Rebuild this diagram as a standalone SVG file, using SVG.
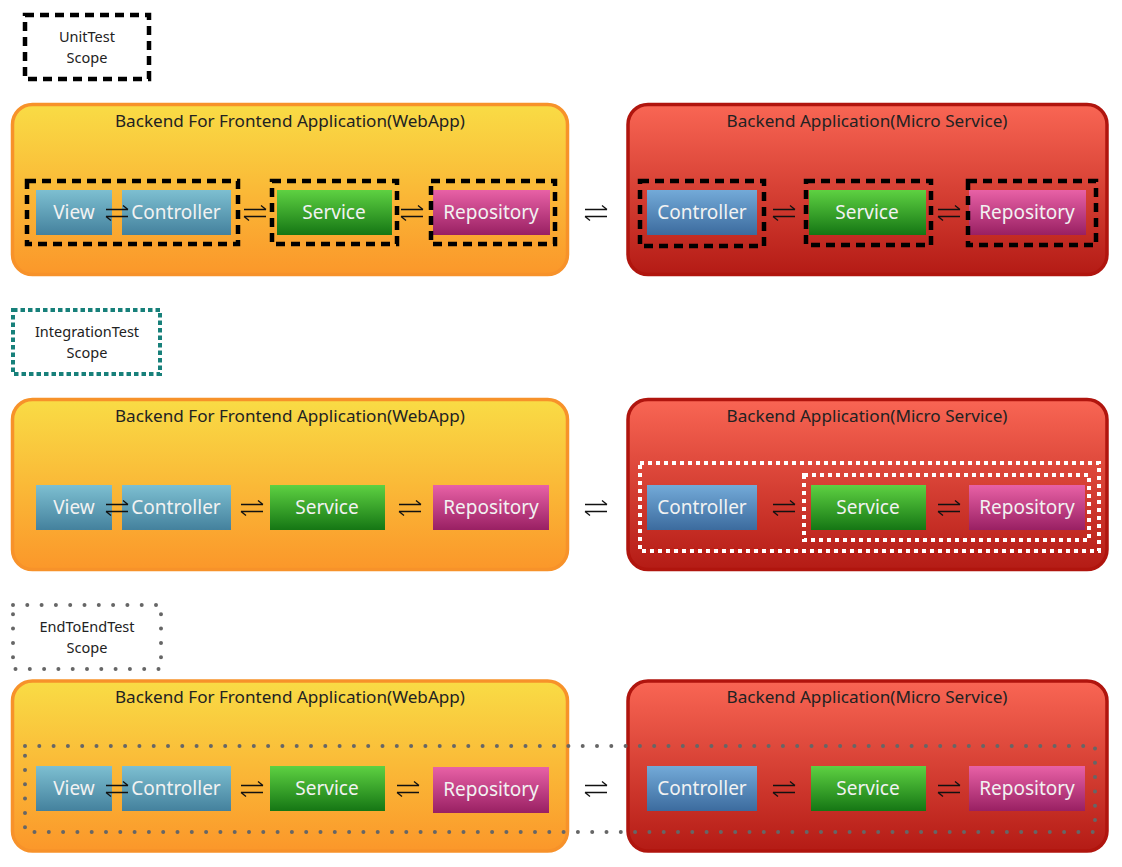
<svg xmlns="http://www.w3.org/2000/svg" width="1122" height="867" viewBox="0 0 1122 867">
<defs>
<linearGradient id="gOr" x1="0" y1="0" x2="0" y2="1"><stop offset="0" stop-color="#F9DC45"/><stop offset="1" stop-color="#FB972A"/></linearGradient>
<linearGradient id="gRd" x1="0" y1="0" x2="0" y2="1"><stop offset="0" stop-color="#F96654"/><stop offset="1" stop-color="#B41B15"/></linearGradient>
<linearGradient id="gBv" x1="0" y1="0" x2="0" y2="1"><stop offset="0" stop-color="#7DBFD1"/><stop offset="1" stop-color="#44819D"/></linearGradient>
<linearGradient id="gBc" x1="0" y1="0" x2="0" y2="1"><stop offset="0" stop-color="#73AAD8"/><stop offset="1" stop-color="#3C6B9E"/></linearGradient>
<linearGradient id="gGr" x1="0" y1="0" x2="0" y2="1"><stop offset="0" stop-color="#5ED142"/><stop offset="1" stop-color="#157614"/></linearGradient>
<linearGradient id="gPk" x1="0" y1="0" x2="0" y2="1"><stop offset="0" stop-color="#E861A6"/><stop offset="1" stop-color="#992063"/></linearGradient>
<path id="arr" d="M-11,-3.5 H11 M6,-7.5 L11,-3.5 M-11,3.5 H11 M-11,3.5 L-6,7.5" fill="none" stroke="#111" stroke-width="1.3"/>
</defs>
<style>
.bff{fill:url(#gOr);stroke:#F7922A;stroke-width:3.5}
.ms{fill:url(#gRd);stroke:#B0150E;stroke-width:3.5}
.title{font-family:"Noto Sans","Liberation Sans",sans-serif;font-size:16px;fill:#222;text-anchor:middle}
.lbl{font-family:"Noto Sans","Liberation Sans",sans-serif;font-size:19px;fill:#F2F2F2;text-anchor:middle}
.scope{font-family:"Noto Sans","Liberation Sans",sans-serif;font-size:14.5px;fill:#222;text-anchor:middle}
.bv{fill:url(#gBv)}
.bc{fill:url(#gBc)}
.gr{fill:url(#gGr)}
.pk{fill:url(#gPk)}
.unit{fill:none;stroke:#000;stroke-width:4.5;stroke-dasharray:9 6}
.integ{fill:none;stroke:#17807A;stroke-width:4;stroke-dasharray:4.5 3}
.wdot{fill:none;stroke:#fff;stroke-width:4;stroke-dasharray:4 4}
.e2e{fill:none;stroke:#666;stroke-width:4;stroke-dasharray:0 14.3;stroke-linecap:round}
</style>

<!-- Legends -->
<g id="legend-unit"><rect class="unit" x="25" y="15" width="124" height="64"/><text class="scope" x="87" y="42">UnitTest</text><text class="scope" x="87" y="63">Scope</text></g>
<g id="legend-integration"><rect class="integ" x="13" y="310" width="147" height="64"/><text class="scope" x="87" y="337">IntegrationTest</text><text class="scope" x="87" y="358">Scope</text></g>
<g id="legend-e2e"><rect class="e2e" x="13" y="605" width="148" height="64"/><text class="scope" x="87" y="632">EndToEndTest</text><text class="scope" x="87" y="653">Scope</text></g>

<!-- Section 1 -->
<g id="bff1"><rect class="bff" x="12.5" y="104.5" width="555" height="170" rx="20"/><text class="title" x="290" y="127" textLength="350" lengthAdjust="spacingAndGlyphs">Backend For Frontend Application(WebApp)</text></g>
<g id="ms1"><rect class="ms" x="628" y="104.5" width="479" height="170" rx="20"/><text class="title" x="867" y="127" textLength="281" lengthAdjust="spacingAndGlyphs">Backend Application(Micro Service)</text></g>
<g id="bff1-view"><rect class="bv" x="36" y="190" width="76" height="45"/><text class="lbl" x="74" y="219">View</text></g>
<g id="bff1-controller"><rect class="bv" x="122" y="190" width="109" height="45"/><text class="lbl" x="176" y="219">Controller</text></g>
<g id="bff1-service"><rect class="gr" x="277" y="190" width="115" height="45"/><text class="lbl" x="334" y="219">Service</text></g>
<g id="bff1-repository"><rect class="pk" x="433" y="190" width="117" height="45"/><text class="lbl" x="491" y="219">Repository</text></g>
<g id="ms1-controller"><rect class="bc" x="647" y="190" width="110" height="45"/><text class="lbl" x="702" y="219">Controller</text></g>
<g id="ms1-service"><rect class="gr" x="809" y="190" width="117" height="45"/><text class="lbl" x="867" y="219">Service</text></g>
<g id="ms1-repository"><rect class="pk" x="969" y="190" width="117" height="45"/><text class="lbl" x="1027" y="219">Repository</text></g>
<g id="unit-scopes">
<rect class="unit" x="27" y="181" width="211" height="63"/>
<rect class="unit" x="272" y="181" width="125" height="63"/>
<rect class="unit" x="431" y="181" width="124" height="63"/>
<rect class="unit" x="640" y="181" width="124" height="65"/>
<rect class="unit" x="806" y="181" width="125" height="64"/>
<rect class="unit" x="968" y="181" width="128" height="64"/>
</g>

<!-- Section 2 -->
<g id="bff2"><rect class="bff" x="12.5" y="399.5" width="555" height="170" rx="20"/><text class="title" x="290" y="422" textLength="350" lengthAdjust="spacingAndGlyphs">Backend For Frontend Application(WebApp)</text></g>
<g id="ms2"><rect class="ms" x="628" y="399.5" width="479" height="170" rx="20"/><text class="title" x="867" y="422" textLength="281" lengthAdjust="spacingAndGlyphs">Backend Application(Micro Service)</text></g>
<g id="bff2-view"><rect class="bv" x="36" y="485" width="76" height="45"/><text class="lbl" x="74" y="514">View</text></g>
<g id="bff2-controller"><rect class="bv" x="122" y="485" width="109" height="45"/><text class="lbl" x="176" y="514">Controller</text></g>
<g id="bff2-service"><rect class="gr" x="270" y="485" width="115" height="45"/><text class="lbl" x="327" y="514">Service</text></g>
<g id="bff2-repository"><rect class="pk" x="433" y="485" width="116" height="45"/><text class="lbl" x="491" y="514">Repository</text></g>
<g id="ms2-controller"><rect class="bc" x="647" y="485" width="110" height="45"/><text class="lbl" x="702" y="514">Controller</text></g>
<g id="ms2-service"><rect class="gr" x="811" y="485" width="115" height="45"/><text class="lbl" x="868" y="514">Service</text></g>
<g id="ms2-repository"><rect class="pk" x="969" y="485" width="116" height="45"/><text class="lbl" x="1027" y="514">Repository</text></g>
<g id="integration-scopes">
<rect class="wdot" x="640" y="463" width="459" height="88"/>
<rect class="wdot" x="804" y="475" width="285" height="65"/>
</g>

<!-- Section 3 -->
<g id="bff3"><rect class="bff" x="12.5" y="681" width="555" height="170" rx="20"/><text class="title" x="290" y="703" textLength="350" lengthAdjust="spacingAndGlyphs">Backend For Frontend Application(WebApp)</text></g>
<g id="ms3"><rect class="ms" x="628" y="681" width="479" height="170" rx="20"/><text class="title" x="867" y="703" textLength="281" lengthAdjust="spacingAndGlyphs">Backend Application(Micro Service)</text></g>
<g id="bff3-view"><rect class="bv" x="36" y="766" width="76" height="45"/><text class="lbl" x="74" y="795">View</text></g>
<g id="bff3-controller"><rect class="bv" x="122" y="766" width="109" height="45"/><text class="lbl" x="176" y="795">Controller</text></g>
<g id="bff3-service"><rect class="gr" x="270" y="766" width="115" height="45"/><text class="lbl" x="327" y="795">Service</text></g>
<g id="bff3-repository"><rect class="pk" x="433" y="767" width="116" height="46"/><text class="lbl" x="491" y="796">Repository</text></g>
<g id="ms3-controller"><rect class="bc" x="647" y="766" width="110" height="45"/><text class="lbl" x="702" y="795">Controller</text></g>
<g id="ms3-service"><rect class="gr" x="811" y="766" width="115" height="45"/><text class="lbl" x="868" y="795">Service</text></g>
<g id="ms3-repository"><rect class="pk" x="969" y="766" width="116" height="45"/><text class="lbl" x="1027" y="795">Repository</text></g>
<g id="e2e-scope">
<rect class="e2e" x="25" y="746" width="1070" height="86"/>
</g>

<!-- Connectors -->
<g id="connectors">
<use href="#arr" x="117" y="213"/><use href="#arr" x="255" y="213"/><use href="#arr" x="412" y="213"/><use href="#arr" x="596" y="213"/><use href="#arr" x="784" y="213"/><use href="#arr" x="949" y="213"/>
<use href="#arr" x="117" y="508"/><use href="#arr" x="252" y="508"/><use href="#arr" x="410" y="508"/><use href="#arr" x="596" y="508"/><use href="#arr" x="784" y="508"/><use href="#arr" x="949" y="508"/>
<use href="#arr" x="117" y="789"/><use href="#arr" x="252" y="789"/><use href="#arr" x="408" y="789"/><use href="#arr" x="596" y="789"/><use href="#arr" x="784" y="789"/><use href="#arr" x="949" y="789"/>
</g>
</svg>
